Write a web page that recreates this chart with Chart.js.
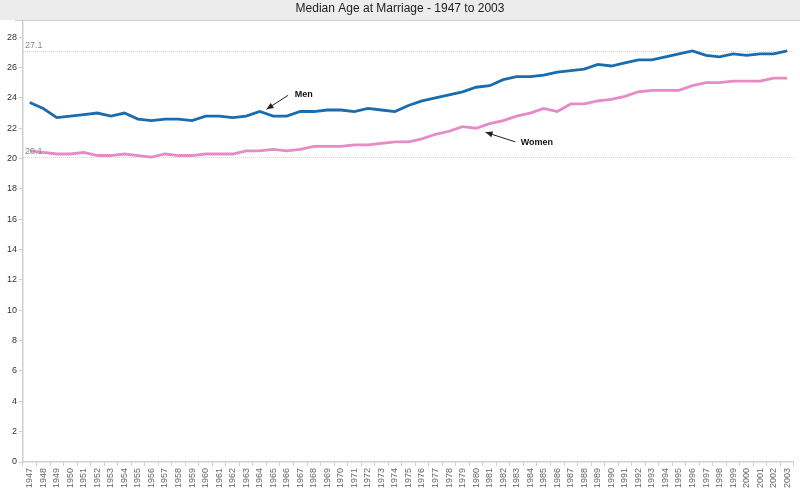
<!DOCTYPE html>
<html>
<head>
<meta charset="utf-8">
<script src="https://cdn.jsdelivr.net/npm/chart.js@4/dist/chart.umd.min.js"></script>
<style>
html,body{margin:0;padding:0;background:#fff;}
#wrap{width:800px;height:488px;position:relative;}
</style>
</head>
<body>
<div id="wrap"><canvas id="c" width="800" height="488"></canvas></div>
<script>
const years = [];
for (let y = 1947; y <= 2003; y++) years.push(String(y));

const men = [23.7,23.3,22.7,22.8,22.9,23.0,22.8,23.0,22.6,22.5,22.6,22.6,22.5,22.8,22.8,22.7,22.8,23.1,22.8,22.8,
  23.1,23.1,23.2,23.2,23.1,23.3,23.2,23.1,23.5,23.8,24.0,24.2,24.4,24.7,24.8,25.2,25.4,25.4,25.5,25.7,
  25.8,25.9,26.2,26.1,26.3,26.5,26.5,26.7,26.9,27.1,26.8,26.7,26.9,26.8,26.9,26.9,27.1];

const women = [20.5,20.4,20.3,20.3,20.4,20.2,20.2,20.3,20.2,20.1,20.3,20.2,20.2,20.3,20.3,20.3,20.5,20.5,20.6,20.5,
  20.6,20.8,20.8,20.8,20.9,20.9,21.0,21.1,21.1,21.3,21.6,21.8,22.1,22.0,22.3,22.5,22.8,23.0,23.3,23.1,
  23.6,23.6,23.8,23.9,24.1,24.4,24.5,24.5,24.5,24.8,25.0,25.0,25.1,25.1,25.1,25.3,25.3];

const yTicks = [0,2,4,6,8,10,12,14,16,18,20,22,24,26,28];
const refLines = [27.1, 20.1];
const titleText = 'Median Age at Marriage - 1947 to 2003';

const FONT = '"Liberation Sans", Arial, sans-serif';

const decor = {
  id: 'decor',
  beforeDraw(chart) {
    const ctx = chart.ctx;
    ctx.save();
    ctx.fillStyle = '#ffffff';
    ctx.fillRect(0, 0, chart.width, chart.height);
    ctx.fillStyle = '#ececec';
    ctx.fillRect(0, 0, chart.width, 20);
    ctx.strokeStyle = '#cfcfcf';
    ctx.lineWidth = 1;
    ctx.beginPath();
    ctx.moveTo(15, 20.5);
    ctx.lineTo(chart.width, 20.5);
    ctx.stroke();
    ctx.fillStyle = '#222';
    ctx.font = '12px ' + FONT;
    ctx.textAlign = 'center';
    ctx.textBaseline = 'middle';
    ctx.fillText(titleText, 400, 9);
    const ys = chart.scales.y, ca = chart.chartArea;
    ctx.setLineDash([1, 1]);
    ctx.strokeStyle = '#d8d8d8';
    refLines.forEach(v => {
      const py = Math.round(ys.getPixelForValue(v)) + 0.5;
      ctx.beginPath();
      ctx.moveTo(ca.left, py);
      ctx.lineTo(ca.right, py);
      ctx.stroke();
    });
    ctx.setLineDash([]);
    ctx.restore();
  },
  afterDatasetsDraw(chart) {
    const ctx = chart.ctx;
    const xs = chart.scales.x, ys = chart.scales.y, ca = chart.chartArea;
    ctx.save();
    ctx.font = '9px ' + FONT;
    ctx.fillStyle = '#8a8a8a';
    ctx.textAlign = 'left';
    ctx.textBaseline = 'bottom';
    refLines.forEach(v => {
      const py = ys.getPixelForValue(v);
      ctx.fillText(String(v), ca.left + 2, py - 1);
    });
    const px = i => xs.getPixelForValue(0) + i * (xs.getPixelForValue(1) - xs.getPixelForValue(0));
    function arrow(x1, y1, x2, y2) {
      ctx.strokeStyle = '#222';
      ctx.fillStyle = '#222';
      ctx.lineWidth = 1;
      ctx.beginPath();
      ctx.moveTo(x1, y1);
      ctx.lineTo(x2, y2);
      ctx.stroke();
      const a = Math.atan2(y2 - y1, x2 - x1);
      const L = 7, W = 3;
      ctx.beginPath();
      ctx.moveTo(x2, y2);
      ctx.lineTo(x2 - L * Math.cos(a) + W * Math.sin(a), y2 - L * Math.sin(a) - W * Math.cos(a));
      ctx.lineTo(x2 - L * Math.cos(a) - W * Math.sin(a), y2 - L * Math.sin(a) + W * Math.cos(a));
      ctx.closePath();
      ctx.fill();
    }
    arrow(px(19.1), ys.getPixelForValue(24.17), px(17.5), ys.getPixelForValue(23.25));
    arrow(px(35.9), ys.getPixelForValue(21.1), px(33.7), ys.getPixelForValue(21.73));
    ctx.font = 'bold 9px ' + FONT;
    ctx.fillStyle = '#111';
    ctx.textAlign = 'left';
    ctx.textBaseline = 'middle';
    ctx.fillText('Men', px(19.6), ys.getPixelForValue(24.2));
    ctx.fillText('Women', px(36.3), ys.getPixelForValue(21.05));
    ctx.restore();
  }
};

new Chart(document.getElementById('c'), {
  type: 'line',
  data: {
    labels: years,
    datasets: [
      { label: 'Men', data: men, borderColor: '#1b6cae', borderWidth: 2.8, pointRadius: 0, tension: 0, fill: false },
      { label: 'Women', data: women, borderColor: '#e68bc6', borderWidth: 2.8, pointRadius: 0, tension: 0, fill: false }
    ]
  },
  options: {
    responsive: false,
    animation: false,
    layout: { padding: { top: 22, right: 3, left: 0, bottom: 0 } },
    plugins: { legend: { display: false }, title: { display: false }, tooltip: { enabled: false } },
    scales: {
      x: {
        offset: true,
        grid: { display: true, drawOnChartArea: false, drawTicks: true, tickLength: 4, color: '#cfcfcf', offset: true },
        border: { display: true, color: '#cfcfcf', width: 1.5 },
        ticks: { autoSkip: false, minRotation: 90, maxRotation: 90, color: '#666', font: { family: FONT, size: 9 }, padding: 2 },
        afterFit(s) { s.height = 26; }
      },
      y: {
        min: 0, max: 29,
        grid: { drawOnChartArea: false, drawTicks: true, tickLength: 4, color: '#cfcfcf' },
        border: { display: true, color: '#cfcfcf', width: 1.5 },
        ticks: { stepSize: 2, color: '#333', font: { family: FONT, size: 9 }, padding: 2 },
        afterBuildTicks(s) { s.ticks = yTicks.map(v => ({ value: v })); },
        afterFit(s) { s.width = 23; }
      }
    }
  },
  plugins: [decor]
});
</script>
</body>
</html>
